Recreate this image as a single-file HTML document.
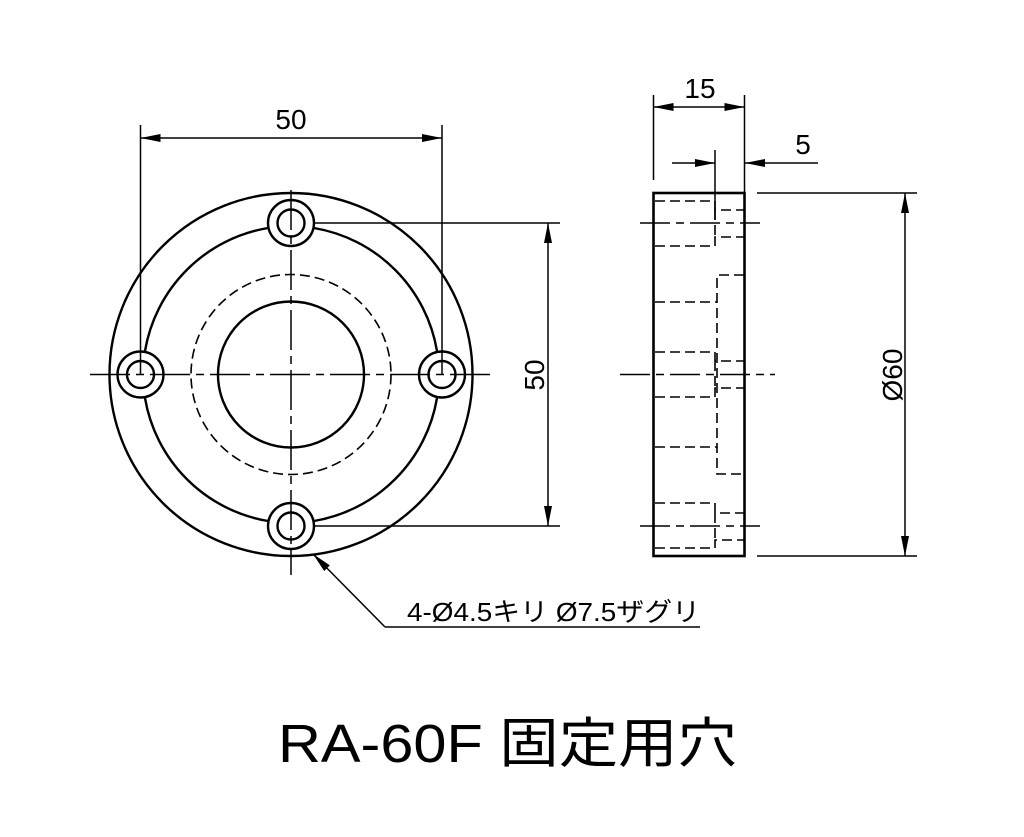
<!DOCTYPE html>
<html><head><meta charset="utf-8"><style>body{margin:0;background:#fff}svg{display:block}</style></head><body>
<svg width="1024" height="837" viewBox="0 0 1024 837" xmlns="http://www.w3.org/2000/svg">
<defs>
<marker id="a" viewBox="0 0 20 8" refX="20" refY="4" markerWidth="20" markerHeight="8" markerUnits="userSpaceOnUse" orient="auto-start-reverse"><path d="M0,0L20,4L0,8z" fill="#000"/></marker>
</defs>
<g fill="none" stroke="#000">
<g stroke-width="2.4">
<circle cx="291" cy="374.5" r="181.5"/>
<path d="M268,228 A150,150 0 0 0 145,351 M145,398 A150,150 0 0 0 268,521 M314,521 A150,150 0 0 0 437,398 M437,351 A150,150 0 0 0 314,228"/>
<circle cx="291" cy="374.5" r="73"/>
<circle cx="291" cy="223" r="23"/><circle cx="291" cy="223" r="13.5"/>
<circle cx="291" cy="526" r="23"/><circle cx="291" cy="526" r="13.5"/>
<circle cx="140.5" cy="374.5" r="23"/><circle cx="140.5" cy="374.5" r="13.5"/>
<circle cx="442" cy="374.5" r="23"/><circle cx="442" cy="374.5" r="13.5"/>
</g>
<circle cx="291" cy="374.5" r="100" stroke-width="1.6" stroke-dasharray="10,5"/>
<g stroke-width="1.5">
<path d="M90,374.5H490" stroke-dasharray="40,6,8,6"/>
<path d="M291,190V575" stroke-dasharray="40,6,8,6"/>
<path d="M140.5,125V374.5 M442,125V374.5"/>
<path d="M140.5,138H442" marker-start="url(#a)" marker-end="url(#a)"/>
<path d="M314,223H560 M314,526H560"/>
<path d="M548,223V526" marker-start="url(#a)" marker-end="url(#a)"/>
<path d="M385,627L313,554" marker-end="url(#a)"/>
<path d="M385,627H700"/>
</g>
<rect x="653.5" y="193" width="91" height="363" stroke-width="2.6"/>
<g stroke-width="1.6" stroke-dasharray="10,5">
<path d="M655,201H715V210H744 M655,246H715V237H744 M715,210V237"/>
<path d="M655,352H715V361H744 M655,397H715V388H744 M715,361V388"/>
<path d="M655,503H715V513H744 M655,548H715V540H744 M715,513V540"/>
<path d="M744,275H717V474H744 M655,302H717 M655,447H717"/>
</g>
<g stroke-width="1.5">
<path d="M640,223H760 M640,526H760 M620,374.5H775" stroke-dasharray="30,6,8,6"/>
<path d="M653.5,95V180 M744.5,95V193 M715,150V220"/>
<path d="M653.5,107H744.5" marker-start="url(#a)" marker-end="url(#a)"/>
<path d="M672,163H715" marker-end="url(#a)"/>
<path d="M818,163H745" marker-end="url(#a)"/>
<path d="M757,193H917 M757,556H917"/>
<path d="M905,193V556" marker-start="url(#a)" marker-end="url(#a)"/>
</g>
</g>
<g font-family="Liberation Sans, Noto Sans CJK JP, sans-serif" fill="#000">
<text x="291" y="129" font-size="28" text-anchor="middle">50</text>
<text x="700" y="98" font-size="28" text-anchor="middle">15</text>
<text x="803" y="154" font-size="28" text-anchor="middle">5</text>
<text transform="translate(544,375) rotate(-90)" font-size="28" text-anchor="middle">50</text>
<text transform="translate(902,375) rotate(-90)" font-size="28" text-anchor="middle">Ø60</text>
<text x="407" y="621" font-size="26" textLength="293" lengthAdjust="spacingAndGlyphs">4-Ø4.5キリ Ø7.5ザグリ</text>
<text x="278" y="762" font-size="54" textLength="459" lengthAdjust="spacingAndGlyphs">RA-60F 固定用穴</text>
</g>
</svg>
</body></html>
